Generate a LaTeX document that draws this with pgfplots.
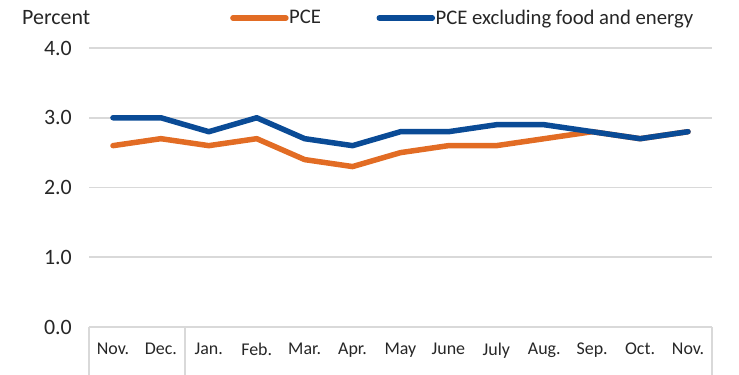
\documentclass[border=0pt]{standalone}
\usepackage{pgfplots}
\pgfplotsset{compat=1.18}
\usepackage{fontspec}
\setmainfont{Carlito}
\definecolor{pceorange}{RGB}{226,108,36}
\definecolor{pceblue}{RGB}{10,75,150}
\definecolor{gridgray}{RGB}{217,217,217}
\definecolor{txt}{RGB}{38,38,38}
\begin{document}
\begin{tikzpicture}
\begin{axis}[
  name=ax,
  at={(0,0)}, anchor=south west,
  scale only axis,
  width=623bp, height=279bp,
  xmin=-0.5, xmax=12.5,
  ymin=0, ymax=4,
  clip=false,
  ytick={0,1,2,3,4},
  xtick={0,...,12},
  xticklabels={Nov.,Dec.,Jan.,Feb.,Mar.,Apr.,May,June,July,Aug.,Sep.,Oct.,Nov.},
  major tick length=0pt,
  axis line style={draw=none},
  ymajorgrids,
  grid style={gridgray, line width=1.6bp},
  /pgf/number format/assume math mode=true,
  yticklabel={\pgfmathprintnumber[fixed,fixed zerofill,precision=1]{\tick}},
  yticklabel style={font=\fontsize{22}{24}\selectfont, color=txt, anchor=east, inner sep=0pt, xshift=-17bp},
  xticklabel style={font=\fontsize{18}{20}\selectfont, color=txt, anchor=north, inner sep=0pt, yshift=-16bp},
  legend columns=2,
  legend style={draw=none, fill=none, at={(0.2215,1.1075)}, anchor=west,
    font=\fontsize{20.8}{23}\selectfont, text=txt,
    /tikz/every even column/.append style={column sep=55bp},
    nodes={inner sep=0.5bp}},
  legend image code/.code={\draw[#1, line cap=round] (0bp,0bp) -- (53bp,0bp);},
  every axis plot/.append style={line width=5.5bp, line join=round, line cap=round, mark=none},
]
\addplot[pceorange] coordinates {(0,2.6) (1,2.7) (2,2.6) (3,2.7) (4,2.4) (5,2.3) (6,2.5) (7,2.6) (8,2.6) (9,2.7) (10,2.8) (11,2.7) (12,2.8)};
\addlegendentry{PCE}
\addplot[pceblue] coordinates {(0,3.0) (1,3.0) (2,2.8) (3,3.0) (4,2.7) (5,2.6) (6,2.8) (7,2.8) (8,2.9) (9,2.9) (10,2.8) (11,2.7) (12,2.8)};
\addlegendentry{PCE excluding food and energy}
\draw[gridgray, line width=1.6bp] (axis cs:-0.5,0) -- ([yshift=-50bp]axis cs:-0.5,0);
\draw[gridgray, line width=1.6bp] (axis cs:1.5,0) -- ([yshift=-50bp]axis cs:1.5,0);
\draw[gridgray, line width=1.6bp] (axis cs:12.5,0) -- ([yshift=-50bp]axis cs:12.5,0);
\end{axis}
\node[anchor=west, inner sep=0pt, font=\fontsize{22}{24}\selectfont, text=txt] at ([xshift=-67bp, yshift=30bp]ax.north west) {Percent};
\pgfresetboundingbox
\path ([xshift=-89bp, yshift=-48bp]ax.south west) rectangle ++(739bp,375bp);
\end{tikzpicture}
\end{document}
